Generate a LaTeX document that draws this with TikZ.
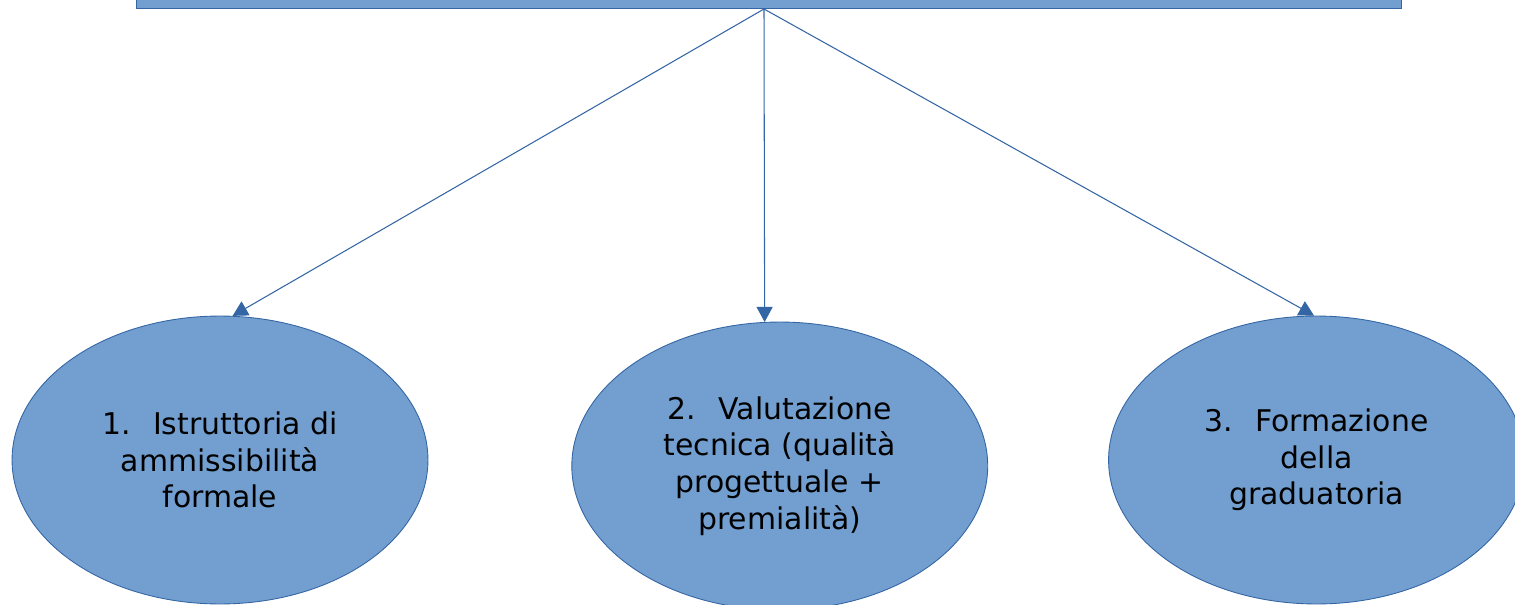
\documentclass[tikz,border=0pt]{standalone}
\usepackage{fontspec}
\setmainfont{DejaVu Sans}
\usetikzlibrary{arrows.meta,positioning,shapes.geometric}
\definecolor{fillblue}{HTML}{729FCF}
\definecolor{lineblue}{HTML}{3465A4}

\begin{document}
\begin{tikzpicture}[x=0.02cm,y=-0.02cm,
    every node/.style={font=\fontsize{17}{20.9}\selectfont},
    stage/.style={ellipse, draw=lineblue, fill=fillblue, line width=0.5pt,
      minimum width=8.32cm, minimum height=5.76cm, inner sep=0pt, align=center},
    link/.style={-{Triangle[length=0.3cm,width=0.32cm]}, draw=lineblue, line width=0.6pt}]
		\useasboundingbox (0,0) rectangle (1515,605);
		\clip (0,0) rectangle (1515,605);
		\node[draw=lineblue, fill=fillblue, line width=0.5pt, minimum width=25.32cm, minimum height=0.8cm, inner sep=0pt] (head) at (769,-12) {};
		\coordinate (hub) at (764,9);
		\node[stage] (formal) at (220,460) {1.\hspace{0.75em}Istruttoria di\\ammissibilità\\formale};
		\node[stage, right=2.86cm of formal, yshift=-0.12cm] (tech) {2.\hspace{0.75em}Valutazione\\tecnica (qualità\\progettuale +\\premialità)};
		\node[stage, right=2.4cm of tech, yshift=0.12cm] (rank) {3.\hspace{0.75em}Formazione\\della\\graduatoria};
		\draw[link] (hub) -- (formal.85.5);
		\draw[link] (hub) -- (tech.96);
		\draw[link] (hub) -- (rank.91);
	\end{tikzpicture}
\end{document}
